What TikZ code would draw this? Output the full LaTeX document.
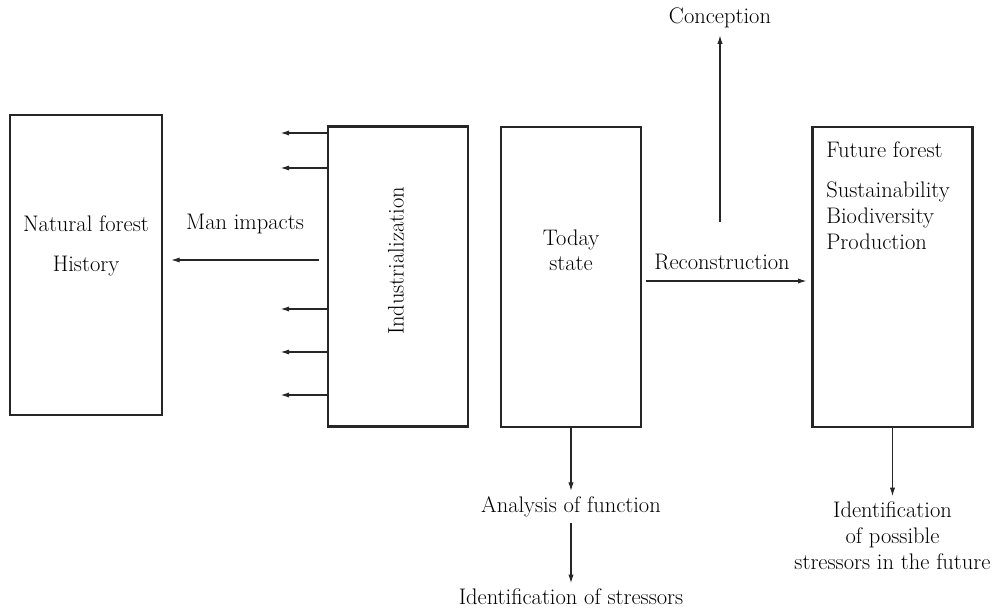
\documentclass[tikz,border=0pt]{standalone}
\usetikzlibrary{arrows.meta,positioning}

\begin{document}
\begin{tikzpicture}[
        x=0.025cm, y=-0.025cm,
        every node/.style = {
            font=\fontsize{16}{18.5}\selectfont, inner sep=0pt
        },
        stagebox/.style = {
            draw, line width=1.8pt, black!85, rectangle,
            minimum height=7.5cm
        },
        arr/.style = {
            -{Latex[length=2.1mm,width=1.3mm]}, line width=0.75pt, black!85
        },
        ]
        \useasboundingbox (0,0) rectangle (995,609);

        % the four boxes
        \node [stagebox, minimum width=3.8cm] (natural) at (86,265) {};
        \node [stagebox, minimum width=3.5cm] (indus) at (398,276.5) {};
        \node [stagebox, minimum width=3.5cm] (today) at (571,277) {};
        \node [stagebox, minimum width=4.0cm] (future) at (892.5,277) {};

        % texts in the boxes
        \node (naturaltxt) at (86,224) {Natural forest};
        \node (historytxt) at (86,266) {History};
        \node [rotate=90] (industxt) at (396,261) {Industrialization};
        \node [align=center, font=\fontsize{16}{18}\selectfont] (todaytxt) at (571,250) {Today\\state};
        \node [anchor=west] (futuretxt) at (826,150) {Future forest};
        \node [anchor=west, align=left] (futureprops) at (826,216)
            {Sustainability\\Biodiversity\\Production};

        % labels outside
        \node (impacts) at (245,224) {Man impacts};
        \node (recon) at (722,262) {Reconstruction};
        \node (concept) at (720,18) {Conception};
        \node (analysis) at (571,507) {Analysis of function};
        \node (stressors) at (571,597) {Identification of stressors};
        \node [align=center] (futstress) at (892.5,536)
            {Identification\\of possible\\stressors in the future};
        \coordinate (conceptbase) at (720,222);

        % arrows
        \foreach \y in {133,168,309,352,395}
            \draw [arr] (indus.west |- 0,\y) -- ++(-46,0);
        \draw [arr, shorten <=2mm, shorten >=2mm] (indus.west |- 0,260) -- (natural.east |- 0,260);
        \draw [arr, shorten <=1mm, shorten >=1.2mm] (today.east |- 0,281) -- (future.west |- 0,281);
        \draw [arr] (conceptbase) -- ([yshift=-5pt]concept.south);
        \draw [arr] (today.south) -- ([yshift=4pt]analysis.north);
        \draw [arr] ([yshift=-4pt]analysis.south) -- ([yshift=4pt]stressors.north);
        \draw [arr] (future.south) -- ([yshift=4pt]futstress.north);
    \end{tikzpicture}
\end{document}
